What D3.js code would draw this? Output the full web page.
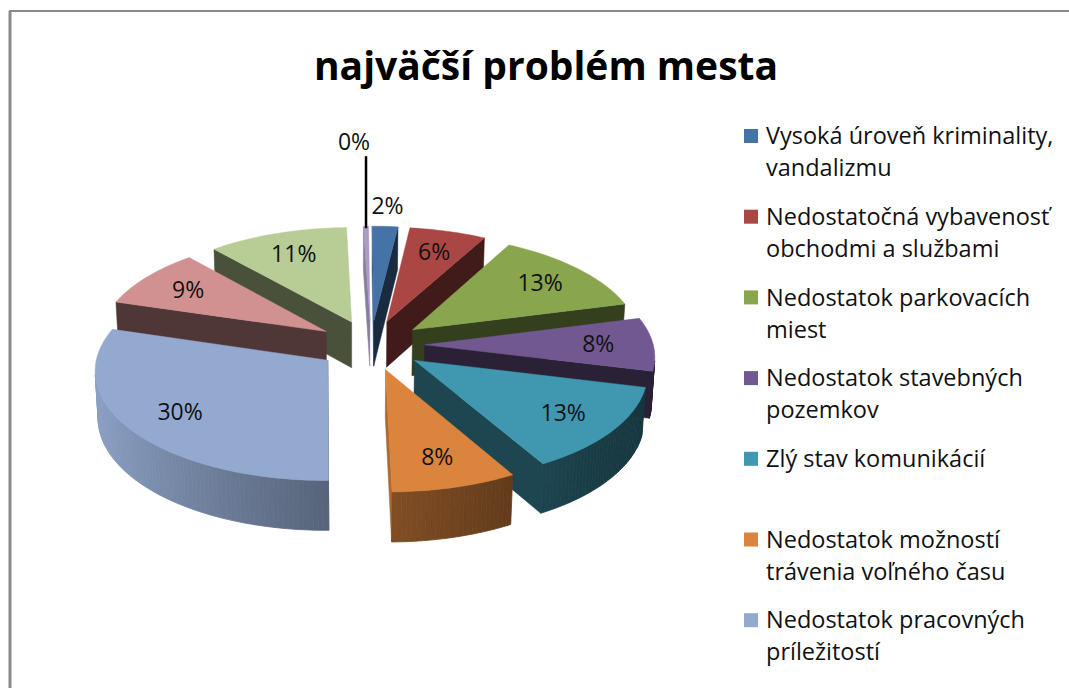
<!DOCTYPE html>
<html>
<head>
<meta charset="utf-8">
<script src="https://cdn.jsdelivr.net/npm/d3@7"></script>
<style>
  body { margin: 0; background: #fff; }
  svg { display: block; }
</style>
</head>
<body>
<svg></svg>
<script>
const title = 'najväčší problém mesta';

// slices, clockwise from 12 o'clock (last three are not in the visible legend)
const categories = [
  'Vysoká úroveň kriminality, vandalizmu',
  'Nedostatočná vybavenosť obchodmi a službami',
  'Nedostatok parkovacích miest',
  'Nedostatok stavebných pozemkov',
  'Zlý stav komunikácií',
  'Nedostatok možností trávenia voľného času',
  'Nedostatok pracovných príležitostí',
  'Iné 1',
  'Iné 2',
  'Iné 3'
];
const values = [2, 6, 13, 8, 13, 8, 30, 9, 11, 0.4];
const colors = ['#4572A7', '#AA4643', '#89A54E', '#715890', '#3F98B0',
  '#DB843D', '#93A9CF', '#D09190', '#B8CC95', '#AB9CC4'];

const legendLines = [
  ['Vysoká úroveň kriminality,', 'vandalizmu'],
  ['Nedostatočná vybavenosť', 'obchodmi a službami'],
  ['Nedostatok parkovacích', 'miest'],
  ['Nedostatok stavebných', 'pozemkov'],
  ['Zlý stav komunikácií'],
  ['Nedostatok možností', 'trávenia voľného času'],
  ['Nedostatok pracovných', 'príležitostí']
];

const width = 1069;
const height = 688;

const svg = d3.select('svg').attr('width', width).attr('height', height);

// chart frame
svg.append('rect')
  .attr('x', 10).attr('y', 11)
  .attr('width', width + 20).attr('height', height + 20)
  .attr('fill', 'none').attr('stroke', '#8a8a8a').attr('stroke-width', 2);
svg.append('line')
  .attr('x1', 10).attr('x2', 10).attr('y1', 11).attr('y2', height)
  .attr('stroke', '#8a8a8a').attr('stroke-width', 3);

svg.append('text')
  .attr('x', 546).attr('y', 80)
  .attr('text-anchor', 'middle')
  .attr('font-family', '"Open Sans", sans-serif')
  .attr('font-weight', 'bold')
  .attr('font-size', 39)
  .attr('fill', '#000')
  .text(title);

// --- 3D projection of the pie (radius 1 in world units) ---
const elev = 29 * Math.PI / 180;
const camDist = 10;
const focal = 226 * camDist;
const camX = -0.08;
const thick = 0.232;
const explode = 0.235;
const centerScreen = [371, 345];

const d0 = camDist - thick * Math.sin(elev);
const ox0 = centerScreen[0] - focal * (0 - camX) / d0;
const oy0 = centerScreen[1] + focal * (thick * Math.cos(elev)) / d0;

const project = (x, y, z) => {
  const d = camDist - y * Math.cos(elev) - z * Math.sin(elev);
  const v = -y * Math.sin(elev) + z * Math.cos(elev);
  return [ox0 + focal * (x - camX) / d, oy0 - focal * v / d];
};
const cam = [camX, camDist * Math.cos(elev), camDist * Math.sin(elev)];

const shade = (c, f) => {
  const r = d3.rgb(c);
  return d3.rgb(r.r * f, r.g * f, r.b * f).formatHex();
};
const outerFactor = (t) => 0.35 + 0.6 * Math.pow((1 - Math.sin(t)) / 2, 1.3);
const wallFactor = (t) => 0.38 + 0.42 * Math.pow(Math.max(0, -Math.sin(t)), 12);

const total = d3.sum(values);
const arcs = d3.pie().sort(null).startAngle(0).endAngle(2 * Math.PI)(values);

const slices = arcs.map((a, i) => {
  const mid = (a.startAngle + a.endAngle) / 2;
  return {
    i,
    a0: a.startAngle,
    a1: a.endAngle,
    mid,
    ox: explode * Math.sin(mid),
    oy: -explode * Math.cos(mid),
    pct: Math.round((values[i] / total) * 100)
  };
});

const line = d3.line();
const pieG = svg.append('g');

// far slices first
const order = slices.slice().sort((p, q) => -Math.cos(p.mid) + Math.cos(q.mid));

order.forEach((s) => {
  const g = pieG.append('g');
  const col = colors[s.i];
  const pt = (t, r, z) => project(s.ox + r * Math.sin(t), s.oy - r * Math.cos(t), z);
  const n = Math.max(2, Math.ceil((s.a1 - s.a0) / 0.02));
  const ts = d3.range(n + 1).map((k) => s.a0 + ((s.a1 - s.a0) * k) / n);

  // radial walls
  [[s.a0, s.a0 - Math.PI / 2], [s.a1, s.a1 + Math.PI / 2]].forEach(([t, face]) => {
    const nx = Math.sin(face);
    const ny = -Math.cos(face);
    const px = s.ox + 0.5 * Math.sin(t);
    const py = s.oy - 0.5 * Math.cos(t);
    const vis = nx * (cam[0] - px) + ny * (cam[1] - py);
    if (vis <= 0) return;
    const c = shade(col, wallFactor(face));
    g.append('path')
      .attr('d', line([pt(t, 0, 0), pt(t, 1, 0), pt(t, 1, thick), pt(t, 0, thick)]) + 'Z')
      .attr('fill', c).attr('stroke', c).attr('stroke-width', 0.5);
  });

  // outer curved wall, strip by strip
  for (let k = 0; k < n; k++) {
    const t0 = ts[k];
    const t1 = ts[k + 1];
    const tm = (t0 + t1) / 2;
    const px = s.ox + Math.sin(tm);
    const py = s.oy - Math.cos(tm);
    const vis = Math.sin(tm) * (cam[0] - px) - Math.cos(tm) * (cam[1] - py);
    if (vis <= 0) continue;
    const c = shade(col, outerFactor(tm));
    g.append('path')
      .attr('d', line([pt(t0, 1, 0), pt(t1, 1, 0), pt(t1, 1, thick), pt(t0, 1, thick)]) + 'Z')
      .attr('fill', c).attr('stroke', c).attr('stroke-width', 0.8);
  }

  // top face
  const top = [pt(0, 0, thick)].concat(ts.map((t) => pt(t, 1, thick)));
  g.append('path')
    .attr('d', line(top) + 'Z')
    .attr('fill', col).attr('stroke', col).attr('stroke-width', 0.5);
});

// data labels
const labelFont = '"Open Sans", sans-serif';
const labelG = svg.append('g')
  .attr('font-family', labelFont).attr('font-size', 23).attr('fill', '#111')
  .attr('text-anchor', 'middle');

slices.forEach((s) => {
  const at = (r) => project(s.ox + r * Math.sin(s.mid), s.oy - r * Math.cos(s.mid), thick);
  if (s.pct >= 3) {
    const p = at(0.76);
    labelG.append('text').attr('x', p[0]).attr('y', p[1]).attr('dy', '0.35em').text(s.pct + '%');
  } else if (s.pct > 0) {
    const p = at(1.24);
    labelG.append('text').attr('x', p[0]).attr('y', p[1]).attr('dy', '0.35em').text(s.pct + '%');
  } else {
    const rim = at(1.0);
    const far = at(2.05);
    svg.append('line')
      .attr('x1', rim[0]).attr('x2', rim[0])
      .attr('y1', rim[1] + 2).attr('y2', far[1] + 14)
      .attr('stroke', '#000').attr('stroke-width', 2.5);
    labelG.append('text').attr('x', rim[0] - 12).attr('y', far[1]).attr('dy', '0.35em').text(s.pct + '%');
  }
});

// legend
const legend = svg.append('g')
  .attr('font-family', labelFont).attr('font-size', 23.5).attr('fill', '#111');
legendLines.forEach((lines, i) => {
  const y = 136 + i * 80.7;
  legend.append('rect')
    .attr('x', 744).attr('y', y - 7).attr('width', 14).attr('height', 14)
    .attr('fill', colors[i]);
  lines.forEach((t, j) => {
    legend.append('text')
      .attr('x', 766).attr('y', y + j * 32).attr('dy', '0.35em')
      .text(t);
  });
});
</script>
</body>
</html>
